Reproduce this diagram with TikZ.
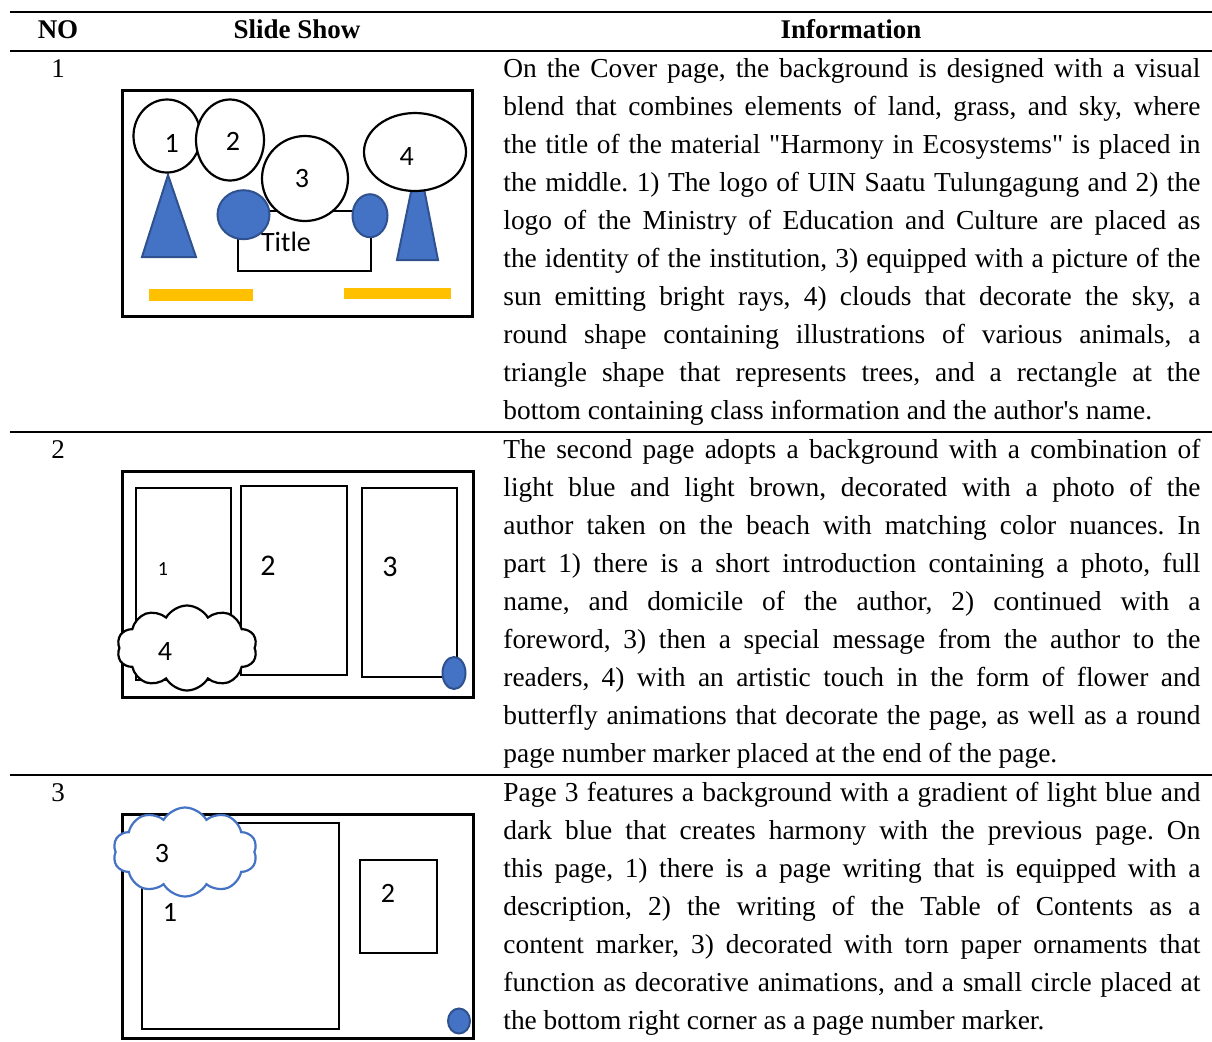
\documentclass[tikz,border=0pt]{standalone}
\usepackage{fontspec}
\setmainfont{Liberation Serif}[Ligatures=TeXOff]
\newfontfamily\sketchfont{Carlito}
\usetikzlibrary{shapes.geometric,shapes.symbols}
\frenchspacing

\definecolor{colorShape}{HTML}{4472C4}
\definecolor{colorShapeLine}{HTML}{2F528F}
\definecolor{colorBar}{HTML}{FFC000}
\tikzset{
   toprule/.style={line width=1pt},
   rowrule/.style={line width=0.75pt},
   slidebox/.style={draw,line width=1.5pt},
   panel/.style={draw,line width=1.2pt},
   bubble/.style={ellipse,draw,fill=white,line width=1.1pt,inner sep=0pt},
   blueblob/.style={ellipse,draw=colorShapeLine,fill=colorShape,line width=1pt,inner sep=0pt},
   treeshape/.style={draw=colorShapeLine,fill=colorShape,line width=1pt,line join=miter},
   yellowbar/.style={fill=colorBar},
   cloudshape/.style={cloud,cloud puffs=10,cloud puff arc=120,draw,fill=white,line width=1.1pt,inner sep=0pt},
   sketchlabel/.style={font=\sketchfont\fontsize{14}{14}\selectfont,inner sep=0pt},
   headtext/.style={font=\bfseries\fontsize{13.5}{15}\selectfont,inner sep=0pt,anchor=base},
   rownum/.style={font=\fontsize{13.5}{15}\selectfont,inner sep=0pt,anchor=base},
   infotext/.style={font=\fontsize{13.7}{19}\selectfont,text width=348.5pt,align=justify,inner sep=0pt,anchor=base west},
 }
\newcommand{\dbox}[3]{\draw[#1] (#2) rectangle (#3)}

\begin{document}
\begin{tikzpicture}[x=0.5pt,y=-0.5pt]
      \useasboundingbox (0,0) rectangle (1212,1041);

      % table rules
      \draw[toprule] (10,12) -- (1212,12);
      \draw[toprule] (10,51) -- (1212,51);
      \draw[rowrule] (10,432) -- (1212,432);
      \draw[rowrule] (10,775) -- (1212,775);

      \node[headtext] (hNO) at (58,38) {NO};
      \node[headtext] (hSlide) at (297,38) {Slide Show};
      \node[headtext] (hInfo) at (851,38) {Information};

      % row 1: cover page
      \node[rownum] (N1) at (58,77) {1};
      \coordinate (S1a) at (122,90);
      \coordinate (S1b) at (472,316);
      \dbox{slidebox}{S1a}{S1b};
      \fill[yellowbar] (149,289) rectangle (253,301);
      \fill[yellowbar] (344,288) rectangle (451,299);
      \draw[treeshape] (142,257) -- (168,175) -- (196,257) -- cycle;
      \draw[treeshape] (397,260) -- (418,158) -- (438,260) -- cycle;
      \coordinate (T1a) at (238,211);
      \coordinate (T1b) at (371,271);
      \dbox{panel}{T1a}{T1b};
      \node[bubble,minimum width=33.5pt,minimum height=36.5pt] (C1) at (167,136) {};
      \node[bubble,minimum width=34pt,minimum height=40.5pt] (C2) at (230,140) {};
      \node[bubble,minimum width=43pt,minimum height=42.5pt] (C3) at (305,178.5) {};
      \node[bubble,minimum width=51pt,minimum height=39pt] (C4) at (415,152) {};
      \node[blueblob,minimum width=26pt,minimum height=24.5pt] (B1) at (243.5,214.7) {};
      \node[blueblob,minimum width=17.5pt,minimum height=21.5pt] (B2) at (370,215.7) {};
      \node[sketchlabel] (L11) at (171.7,143) {1};
      \node[sketchlabel] (L12) at (233,141.7) {2};
      \node[sketchlabel] (L13) at (302,178) {3};
      \node[sketchlabel] (L14) at (406.7,156.7) {4};
      \node[sketchlabel] (LT) at (286,241.7) {Title};
      \node[infotext] (I1) at (503,77) {On the Cover page, the background is designed with a visual\linebreak
        blend that combines elements of land, grass, and sky, where\linebreak
        the title of the material "Harmony in Ecosystems" is placed in\linebreak
        the middle. 1) The logo of UIN Saatu Tulungagung and 2) the\linebreak
        logo of the Ministry of Education and Culture are placed as\linebreak
        the identity of the institution, 3) equipped with a picture of the\linebreak
        sun emitting bright rays, 4) clouds that decorate the sky, a\linebreak
        round shape containing illustrations of various animals, a\linebreak
        triangle shape that represents trees, and a rectangle at the\linebreak
        bottom containing class information and the author's name.};

      % row 2: second page
      \node[rownum] (N2) at (58,458) {2};
      \coordinate (S2a) at (122,471);
      \coordinate (S2b) at (473,697);
      \dbox{slidebox}{S2a}{S2b};
      \coordinate (P21a) at (136,488);
      \coordinate (P21b) at (231,680);
      \dbox{panel}{P21a}{P21b};
      \coordinate (P22a) at (241,486);
      \coordinate (P22b) at (347,675);
      \dbox{panel}{P22a}{P22b};
      \coordinate (P23a) at (362,488);
      \coordinate (P23b) at (457,677);
      \dbox{panel}{P23a}{P23b};
      \node[cloudshape,aspect=1.8,minimum width=70pt,minimum height=42.5pt] (K2) at (187,648) {};
      \node[blueblob,minimum width=11.5pt,minimum height=16pt] (B3) at (454,673) {};
      \node[sketchlabel,font=\sketchfont\fontsize{10}{10}\selectfont] (L21) at (163,569) {1};
      \node[sketchlabel,font=\sketchfont\fontsize{15}{15}\selectfont] (L22) at (268,566) {2};
      \node[sketchlabel,font=\sketchfont\fontsize{15}{15}\selectfont] (L23) at (390,567) {3};
      \node[sketchlabel] (L24) at (165,651) {4};
      \node[infotext] (I2) at (503,458) {The second page adopts a background with a combination of\linebreak
        light blue and light brown, decorated with a photo of the\linebreak
        author taken on the beach with matching color nuances. In\linebreak
        part 1) there is a short introduction containing a photo, full\linebreak
        name, and domicile of the author, 2) continued with a\linebreak
        foreword, 3) then a special message from the author to the\linebreak
        readers, 4) with an artistic touch in the form of flower and\linebreak
        butterfly animations that decorate the page, as well as a round\linebreak
        page number marker placed at the end of the page.};

      % row 3: table of contents
      \node[rownum] (N3) at (58,801) {3};
      \coordinate (S3a) at (122,814);
      \coordinate (S3b) at (473,1038);
      \dbox{slidebox}{S3a}{S3b};
      \coordinate (P31a) at (142,823);
      \coordinate (P31b) at (339,1029);
      \dbox{panel}{P31a}{P31b};
      \coordinate (P32a) at (360,860);
      \coordinate (P32b) at (437,953);
      \dbox{panel}{P32a}{P32b};
      \node[cloudshape,draw=colorShape,aspect=1.8,minimum width=72pt,minimum height=44.5pt] (K3) at (185,852) {};
      \node[blueblob,minimum width=11pt,minimum height=12.5pt] (B4) at (459,1021) {};
      \node[sketchlabel] (L33) at (162,853) {3};
      \node[sketchlabel] (L31) at (170,912) {1};
      \node[sketchlabel] (L32) at (388,893) {2};
      \node[infotext] (I3) at (503,801) {Page 3 features a background with a gradient of light blue and\linebreak
        dark blue that creates harmony with the previous page. On\linebreak
        this page, 1) there is a page writing that is equipped with a\linebreak
        description, 2) the writing of the Table of Contents as a\linebreak
        content marker, 3) decorated with torn paper ornaments that\linebreak
        function as decorative animations, and a small circle placed at\linebreak
        the bottom right corner as a page number marker.};
    \end{tikzpicture}
\end{document}
